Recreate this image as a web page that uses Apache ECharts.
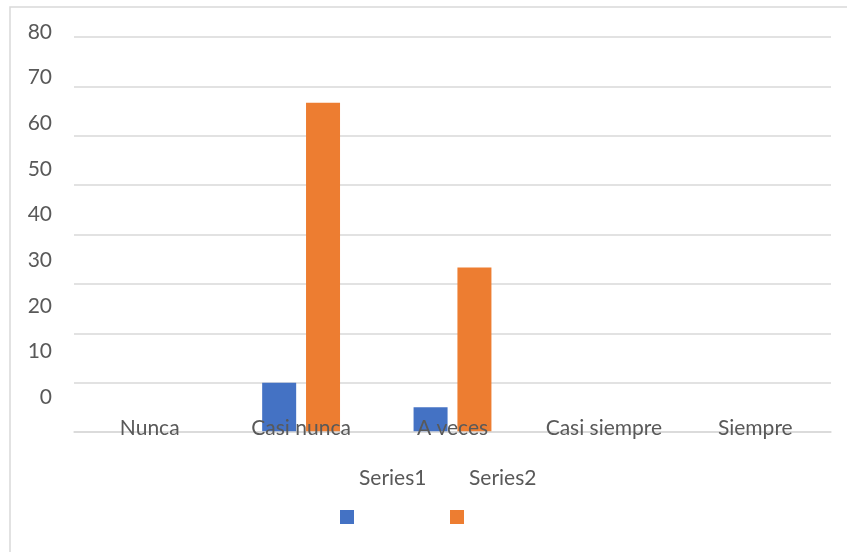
<!DOCTYPE html>
<html>
<head>
<meta charset="utf-8">
<style>
  html, body { margin: 0; padding: 0; background: #fff; }
  #chart { width: 847px; height: 552px; }
</style>
<script src="https://cdn.jsdelivr.net/npm/echarts@6/dist/echarts.min.js"></script>
</head>
<body>
<div id="chart"></div>
<script>
const categories = ['Nunca', 'Casi nunca', 'A veces', 'Casi siempre', 'Siempre'];
const series1 = [0, 10, 5, 0, 0];
const series2 = [0, 66.67, 33.33, 0, 0];
const seriesNames = ['Series1', 'Series2'];
const yTicks = [0, 80, 10]; // min, max, step

const FONT = 'Lato';
const FS = 21;
const TEXT = '#595959';
const GRID = '#d9d9d9';
const COLORS = ['#4472c4', '#ed7d31'];
const legendLeft = [340, 450];

// Legend: names sit above their colour swatches, so each entry is split into
// a swatch-only legend and a text-only legend (transparent swatch).
const legends = [];
seriesNames.forEach((name, i) => {
  legends.push({
    data: [name],
    left: legendLeft[i],
    top: 510,
    padding: 0,
    icon: 'rect',
    itemWidth: 14,
    itemHeight: 14,
    formatter: () => '',
    textStyle: { fontSize: 1 }
  });
  legends.push({
    data: [name],
    left: legendLeft[i],
    top: 468,
    padding: 0,
    icon: 'rect',
    itemWidth: 14,
    itemHeight: 14,
    itemStyle: { opacity: 0 },
    textStyle: { color: TEXT, fontSize: FS, fontFamily: FONT }
  });
});

const chart = echarts.init(document.getElementById('chart'), null, { renderer: 'canvas' });

chart.setOption({
  animation: false,
  backgroundColor: '#fff',
  textStyle: { fontFamily: FONT },
  graphic: [{
    type: 'rect',
    shape: { x: 10, y: 7, width: 900, height: 600 },
    style: { fill: 'none', stroke: GRID, lineWidth: 1.5 },
    silent: true
  }],
  legend: legends,
  grid: [
    { left: 74, right: 16, top: 37, bottom: 120 },
    { left: 74, right: 16, top: 32, bottom: 155 }
  ],
  xAxis: [{
    type: 'category',
    gridIndex: 0,
    data: categories,
    z: 10,
    axisTick: { show: false },
    axisLine: { lineStyle: { color: GRID, width: 1.5 } },
    axisLabel: { interval: 0, color: TEXT, fontSize: FS, fontFamily: FONT, verticalAlign: 'middle', margin: -4 }
  }, {
    type: 'category',
    gridIndex: 1,
    data: categories,
    show: false
  }],
  yAxis: [{
    type: 'value',
    gridIndex: 0,
    min: yTicks[0], max: yTicks[1], interval: yTicks[2],
    axisLabel: { show: false },
    axisLine: { show: false },
    axisTick: { show: false },
    splitLine: { lineStyle: { color: GRID, width: 1.5 } }
  }, {
    type: 'value',
    gridIndex: 1,
    min: yTicks[0], max: yTicks[1], interval: yTicks[2],
    axisLine: { show: false },
    axisTick: { show: false },
    splitLine: { show: false },
    axisLabel: { color: TEXT, fontSize: FS, fontFamily: FONT, margin: 22 }
  }],
  series: [{
    name: seriesNames[0],
    type: 'bar',
    xAxisIndex: 0, yAxisIndex: 0,
    data: series1,
    barWidth: 34,
    barGap: '29%',
    itemStyle: { color: COLORS[0] }
  }, {
    name: seriesNames[1],
    type: 'bar',
    xAxisIndex: 0, yAxisIndex: 0,
    data: series2,
    barWidth: 34,
    barGap: '29%',
    itemStyle: { color: COLORS[1] }
  }]
});
</script>
</body>
</html>
